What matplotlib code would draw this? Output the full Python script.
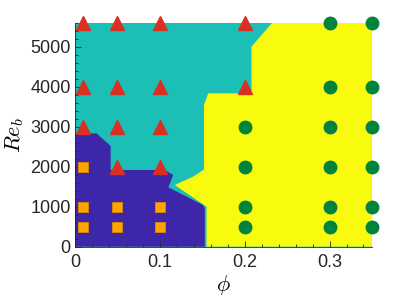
import matplotlib
matplotlib.use("Agg")
import matplotlib.pyplot as plt
from matplotlib.ticker import MultipleLocator

# regime boundaries (phi, Re_b)
blue_phi = [0.0, 0.0, 0.0255, 0.042, 0.042, 0.106, 0.1157, 0.110, 0.151, 0.153, 0.153]
blue_re = [0, 2833, 2833, 2517, 1917, 1917, 1792, 1485, 1042, 950, 0]

yellow_phi = [0.155, 0.155, 0.1176, 0.140, 0.152, 0.152, 0.157, 0.208, 0.208, 0.2325, 0.35, 0.35]
yellow_re = [0, 1000, 1542, 1760, 1930, 3540, 3833, 3833, 5000, 5600, 5600, 0]

# simulation points by regime
sq_phi = [0.01, 0.01, 0.01, 0.05, 0.05, 0.1, 0.1]
sq_re = [500, 1000, 2000, 500, 1000, 500, 1000]

tri_phi = [0.01, 0.01, 0.01, 0.05, 0.05, 0.05, 0.05, 0.1, 0.1, 0.1, 0.1, 0.2, 0.2]
tri_re = [3000, 4000, 5600, 2000, 3000, 4000, 5600, 2000, 3000, 4000, 5600, 4000, 5600]

circ_phi = [0.2, 0.2, 0.2, 0.2, 0.3, 0.3, 0.3, 0.3, 0.3, 0.3, 0.35, 0.35, 0.35, 0.35, 0.35, 0.35]
circ_re = [500, 1000, 2000, 3000, 500, 1000, 2000, 3000, 4000, 5600, 500, 1000, 2000, 3000, 4000, 5600]

blue = "#3e26a8"
teal = "#1bbfb5"
yellow = "#f9fb0e"

plt.rcParams["font.family"] = "Liberation Sans"
plt.rcParams["mathtext.fontset"] = "cm"

fig = plt.figure(figsize=(4.11, 2.97), dpi=100)
ax = fig.add_axes([0.1825, 0.1694, 0.7225, 0.7542])
ax.set_facecolor(teal)

ax.fill(blue_phi, blue_re, color=blue, lw=0)
ax.fill(yellow_phi, yellow_re, color=yellow, lw=0)

ax.plot(sq_phi, sq_re, "s", color="#ffa500", mec="#e08a00", mew=0.6, ms=7.5, clip_on=False)
ax.plot(tri_phi, tri_re, "^", color="#d93024", mec="#d93024", ms=9.5, clip_on=False)
ax.plot(circ_phi, circ_re, "o", color="#00843d", mec="#00843d", ms=9, clip_on=False)

ax.set_xlim(0, 0.35)
ax.set_ylim(0, 5600)
ax.set_xticks([0, 0.1, 0.2, 0.3])
ax.set_xticklabels(["0", "0.1", "0.2", "0.3"])
ax.set_yticks([0, 1000, 2000, 3000, 4000, 5000])
ax.xaxis.set_minor_locator(MultipleLocator(0.02))
ax.yaxis.set_minor_locator(MultipleLocator(200))

for s in ["top", "right"]:
    ax.spines[s].set_visible(False)
for s in ["left", "bottom"]:
    ax.spines[s].set_color("#262626")
    ax.spines[s].set_linewidth(0.6)

ax.tick_params(which="both", direction="in", colors="#262626", labelsize=13, width=0.6)
ax.tick_params(which="major", length=4)
ax.tick_params(which="minor", length=2)
ax.tick_params(axis="x", pad=5)
ax.tick_params(axis="y", pad=3)

ax.set_xlabel(r"$\phi$", fontsize=16, labelpad=2)
ax.set_ylabel(r"$Re_b$", fontsize=16, labelpad=3)

fig.savefig("out.png", dpi=100)
